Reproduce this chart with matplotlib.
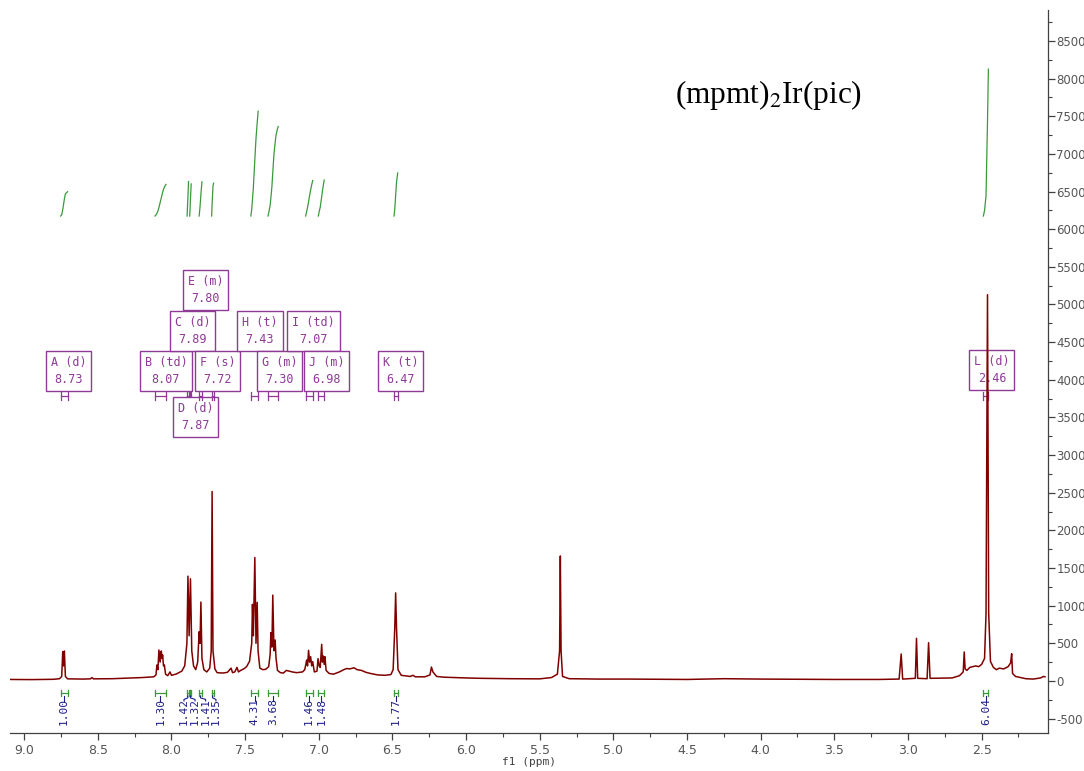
import numpy as np
import matplotlib.pyplot as plt
from matplotlib.ticker import MultipleLocator, FormatStrFormatter

plt.rcParams['axes.unicode_minus'] = False
plt.rcParams['mathtext.fontset'] = 'stix'

# 1H NMR trace: chemical shift (ppm) and intensity
shift = [9.10, 8.95, 8.80, 8.760, 8.745, 8.738, 8.733, 8.727, 8.720, 8.705,
         8.60, 8.55, 8.54, 8.53, 8.40, 8.30, 8.20, 8.12,
         8.105, 8.099, 8.092, 8.085, 8.077, 8.069, 8.064, 8.060, 8.054, 8.048, 8.040,
         8.025, 8.010, 8.000, 7.970, 7.930, 7.910, 7.895, 7.888, 7.880, 7.871, 7.862,
         7.850, 7.835, 7.822, 7.812, 7.806, 7.800, 7.793, 7.780, 7.760, 7.740,
         7.730, 7.724, 7.718, 7.705, 7.690, 7.650, 7.620, 7.595, 7.585, 7.570,
         7.555, 7.545, 7.530, 7.520, 7.505, 7.490, 7.470, 7.455, 7.450, 7.444,
         7.434, 7.426, 7.418, 7.412, 7.400, 7.380, 7.360, 7.340, 7.330, 7.325,
         7.318, 7.312, 7.304, 7.296, 7.290, 7.280, 7.260, 7.240, 7.220, 7.200,
         7.180, 7.150, 7.110, 7.095, 7.082, 7.076, 7.069, 7.062, 7.055, 7.048,
         7.041, 7.030, 7.012, 7.005, 6.997, 6.990, 6.980, 6.975, 6.969, 6.963,
         6.958, 6.950, 6.930, 6.900, 6.860, 6.830, 6.810, 6.790, 6.760, 6.740,
         6.710, 6.680, 6.650, 6.600, 6.550, 6.510, 6.495, 6.484, 6.478, 6.472,
         6.462, 6.440, 6.380, 6.360, 6.345, 6.280, 6.245, 6.235, 6.225, 6.200,
         6.150, 6.000, 5.900, 5.700, 5.500, 5.420, 5.380, 5.365, 5.360, 5.355,
         5.345, 5.300, 5.100, 4.900, 4.500, 4.250, 4.000, 3.500, 3.200, 3.060,
         3.046, 3.036, 2.950, 2.942, 2.934, 2.870, 2.860, 2.850, 2.700, 2.650,
         2.625, 2.618, 2.612, 2.600, 2.580, 2.560, 2.540, 2.520, 2.500, 2.480,
         2.470, 2.460, 2.452, 2.440, 2.420, 2.400, 2.380, 2.350, 2.320, 2.303,
         2.296, 2.290, 2.270, 2.200, 2.150, 2.100, 2.080, 2.070]
intensity = [20, 18, 22, 30, 60, 389, 200, 398, 60, 28,
             25, 28, 45, 28, 30, 38, 45, 55,
             80, 212, 150, 411, 250, 398, 300, 345, 200, 212, 90,
             70, 120, 75, 90, 130, 200, 500, 1392, 600, 1357, 400,
             200, 150, 250, 654, 500, 1048, 300, 150, 120, 170,
             400, 2516, 400, 160, 110, 105, 115, 170, 110, 120,
             180, 120, 140, 150, 165, 190, 260, 500, 1017, 600,
             1640, 500, 1044, 400, 170, 150, 155, 190, 350, 641,
             450, 1140, 400, 544, 300, 140, 110, 105, 140, 130,
             120, 110, 120, 150, 278, 200, 407, 250, 322, 200,
             256, 120, 130, 296, 200, 180, 487, 250, 332, 220,
             322, 140, 100, 90, 120, 150, 165, 160, 175, 150,
             140, 115, 100, 80, 75, 85, 150, 700, 1170, 700,
             150, 75, 60, 75, 55, 55, 80, 185, 120, 60,
             50, 40, 35, 30, 28, 45, 90, 400, 1660, 400,
             60, 30, 25, 25, 20, 30, 25, 20, 20, 25,
             358, 25, 35, 566, 35, 30, 508, 35, 40, 70,
             120, 385, 160, 140, 180, 190, 200, 190, 220, 300,
             900, 5130, 900, 260, 180, 150, 170, 160, 190, 240,
             362, 100, 60, 30, 25, 40, 60, 55]

# multiplet report (ordered by shift)
mult_name = ['A (d)', 'B (td)', 'C (d)', 'D (d)', 'E (m)', 'F (s)',
             'H (t)', 'G (m)', 'I (td)', 'J (m)', 'K (t)', 'L (d)']
mult_delta = [8.73, 8.07, 7.89, 7.87, 7.80, 7.72, 7.43, 7.30, 7.07, 6.98, 6.47, 2.46]
int_start = [8.752, 8.112, 7.894, 7.876, 7.812, 7.727, 7.461, 7.345, 7.089, 7.003, 6.489, 2.488]
int_end = [8.705, 8.037, 7.884, 7.866, 7.793, 7.714, 7.411, 7.275, 7.041, 6.963, 6.464, 2.454]
int_value = [1.00, 1.30, 1.42, 1.32, 1.41, 1.35, 4.31, 3.68, 1.46, 1.48, 1.77, 6.04]

# label layout
box_x = [8.696, 8.037, 7.854, 7.837, 7.766, 7.688, 7.399, 7.267, 7.036, 6.948, 6.442, 2.430]
box_y = [4117, 4117, 4648, 3506, 5192, 4117, 4648, 4117, 4648, 4117, 4117, 4130]
lab_x = [None, None, 7.915, 7.840, 7.768, 7.698, None, None, None, None, None, None]

red = '#800000'
green = '#3a9a3a'
purple = '#8e3a96'
navy = '#1c1c86'
mono = 'DejaVu Sans Mono'

fig = plt.figure(figsize=(10.84, 7.71), dpi=100)
ax = fig.add_axes([0.00923, 0.0497, 0.9576, 0.9373])

x = np.array(shift)
y = np.array(intensity)
ax.plot(x, y, color=red, lw=1.1, zorder=5)

for i in range(len(mult_name)):
    s, e, v = int_start[i], int_end[i], int_value[i]
    # integral curve: running area of the trace over the range
    m = (x < s) & (x > e)
    xs = np.concatenate([[s], x[m], [e]])
    ys = np.concatenate([[np.interp(s, x[::-1], y[::-1])], y[m],
                         [np.interp(e, x[::-1], y[::-1])]])
    area = np.concatenate([[0], np.cumsum(0.5 * (ys[1:] + ys[:-1]) * -np.diff(xs))])
    ax.plot(xs, 6175 + 323 * v * area / area[-1], color=green, lw=0.9, zorder=3)

    # multiplet range marker and box
    ax.plot([s, e], [3785, 3785], color=purple, lw=0.9)
    ax.plot([s, s], [3735, 3835], color=purple, lw=0.9)
    ax.plot([e, e], [3735, 3835], color=purple, lw=0.9)
    ax.text(box_x[i], box_y[i], '%s\n%.2f' % (mult_name[i], mult_delta[i]),
            ha='center', va='center', multialignment='center', family=mono,
            fontsize=8.5, color=purple, linespacing=1.45, zorder=2,
            bbox=dict(boxstyle='square,pad=0.4', fc='white', ec=purple, lw=1.0))

    # integral marker under the baseline
    c = 0.5 * (s + e)
    ax.plot([s, e], [-159, -159], color=green, lw=0.9)
    ax.plot([s, s], [-119, -199], color=green, lw=0.9)
    ax.plot([e, e], [-119, -199], color=green, lw=0.9)
    lx = c if lab_x[i] is None else lab_x[i]
    if lab_x[i] is None:
        ax.plot([c, c], [-199, -265], color=navy, lw=0.8)
    else:
        ax.plot([c, c, lx, lx], [-199, -225, -245, -265], color=navy, lw=0.8)
    ax.text(lx, -412, '%.2f' % v, rotation=90, ha='center', va='center',
            family=mono, fontsize=8, color=navy)

ax.text(0.641, 0.883, r'(mpmt)$_2$Ir(pic)', transform=ax.transAxes,
        family='Liberation Serif', fontsize=22.5, ha='left', va='center')

ax.set_xlim(9.096, 2.049)
ax.set_ylim(-687, 8911)

for side in ['top', 'left']:
    ax.spines[side].set_visible(False)
for side in ['bottom', 'right']:
    ax.spines[side].set_color('#404040')
    ax.spines[side].set_linewidth(0.9)

ax.xaxis.set_major_locator(MultipleLocator(0.5))
ax.xaxis.set_minor_locator(MultipleLocator(0.25))
ax.xaxis.set_major_formatter(FormatStrFormatter('%.1f'))
ax.yaxis.set_major_locator(MultipleLocator(500))
ax.yaxis.set_minor_locator(MultipleLocator(250))
ax.yaxis.tick_right()
ax.tick_params(axis='x', which='major', direction='out', length=5, width=0.9,
               colors='#404040', labelsize=9, labelcolor='#555555', pad=3)
ax.tick_params(axis='x', which='minor', direction='out', length=3, width=0.8, colors='#404040')
ax.tick_params(axis='y', which='major', direction='out', length=5, width=0.9,
               colors='#404040', labelsize=8.5, labelcolor='#555555', pad=1)
ax.tick_params(axis='y', which='minor', direction='out', length=3, width=0.8, colors='#404040')
ax.set_xlabel('f1 (ppm)', fontsize=8, color='#404040', family=mono, labelpad=0)

fig.savefig('out.png', dpi=100)
